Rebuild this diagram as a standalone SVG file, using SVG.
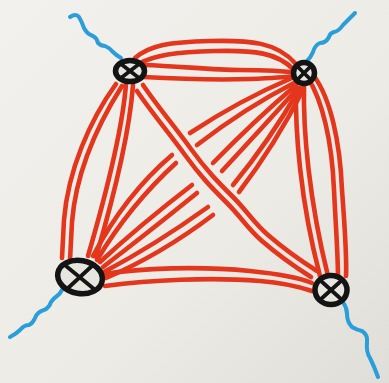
<svg xmlns="http://www.w3.org/2000/svg" width="389" height="383" viewBox="0 0 389 383">
<defs>
<linearGradient id="paper" x1="0" y1="0" x2="1" y2="1">
<stop offset="0" stop-color="#f2f1ed"/>
<stop offset="0.6" stop-color="#ecebe6"/>
<stop offset="1" stop-color="#e0ded8"/>
</linearGradient>
<style>
.r{fill:none;stroke:#e4361c;stroke-width:4.6;stroke-linecap:round;stroke-linejoin:round}
.b{fill:none;stroke:#2a9ed8;stroke-width:4;stroke-linecap:round;stroke-linejoin:round}
.n{fill:#e6e5e0;stroke:#141414;stroke-width:5.5}
.x{stroke:#141414;stroke-width:3.8;stroke-linecap:round}
</style>
</defs>
<rect width="389" height="383" fill="url(#paper)"/>
<g id="external-lines">
<path class="b" d="M70,17 Q76,13 79,17 Q82,22 84,28 Q87,34 93,36 Q97,38 98,43 Q101,46 105,46 Q110,48 113,52 Q116,55 121,58"/>
<path class="b" d="M355,13 Q348,20 343,25 Q339,31 334,32 Q330,33 329,37 Q326,43 320,43 Q315,45 313,52 Q311,57 307,61"/>
<path class="b" d="M10,337 Q16,334 20,330 Q24,325 29,325 Q33,323 35,318 Q37,312 44,310 Q49,308 51,302 Q54,298 57,296 Q60,294 62,290"/>
<path class="b" d="M343,302 Q347,308 347,314 Q347,322 352,327 Q357,330 362,331 Q368,335 367,342 Q366,352 370,358 Q374,366 378,377"/>
</g>
<g id="connectors">
<path class="r" d="M135,58 C150,45 170,42 210,41 C250,40 277,42 296,64"/>
<path class="r" d="M138,64 C155,55 175,52 215,51 C255,50 277,53 293,69"/>
<path class="r" d="M143,65 C180,66 210,70 240,70 C265,70 285,71 297,73"/>
<path class="r" d="M143,77 C180,79 220,80 250,79 C275,78 288,77 296,76"/>
<path class="r" d="M116,84 C90,120 68,170 64,220 L62,258"/>
<path class="r" d="M122,86 C98,124 76,172 72,222 L70,260"/>
<path class="r" d="M126,84 C124,110 116,160 88,256"/>
<path class="r" d="M133,85 C131,112 124,162 96,257"/>
<path class="r" d="M296,85 C295,130 300,200 320,276"/>
<path class="r" d="M304,85 C303,130 309,200 328,276"/>
<path class="r" d="M308,78 C322,100 332,140 334,190 C336,230 338,255 338,278"/>
<path class="r" d="M314,76 C330,98 340,140 342,190 C345,230 347,255 346,276"/>
<path class="r" d="M105,274 C140,268 200,266 250,271 C280,274 300,278 312,283"/>
<path class="r" d="M105,286 C150,280 210,277 260,281 C285,283 300,287 312,291"/>
<path class="r" d="M292,78 Q240,100 190,133"/>
<path class="r" d="M294,83 Q245,108 197,145"/>
<path class="r" d="M295,86 Q255,120 213,163"/>
<path class="r" d="M298,88 Q262,128 222,171"/>
<path class="r" d="M300,88 Q270,140 233,185"/>
<path class="r" d="M303,90 Q275,145 239,192"/>
<path class="r" d="M172,155 Q125,195 93,256"/>
<path class="r" d="M176,163 Q130,205 97,260"/>
<path class="r" d="M192,185 Q140,225 100,262"/>
<path class="r" d="M197,193 Q145,235 103,267"/>
<path class="r" d="M208,207 Q155,245 104,272"/>
<path class="r" d="M213,215 Q160,255 106,278"/>
<path class="r" d="M143,85 C158,107 175,127 191,149 S218,182 233,197 S253,222 268,235 S298,259 317,271"/>
<path class="r" d="M137,91 C152,113 169,133 185,155 S212,188 227,203 S247,228 262,241 S292,265 311,277"/>
</g>
<g id="node-tl">
<ellipse class="n" cx="130" cy="71" rx="14.5" ry="10.5"/>
<line class="x" x1="121" y1="64" x2="139" y2="78"/>
<line class="x" x1="139" y1="64" x2="121" y2="78"/>
</g>
<g id="node-tr">
<ellipse class="n" cx="304" cy="73" rx="10.5" ry="10.5"/>
<line class="x" x1="297" y1="66" x2="311" y2="80"/>
<line class="x" x1="311" y1="66" x2="297" y2="80"/>
</g>
<g id="node-bl">
<ellipse class="n" cx="80" cy="277" rx="22.5" ry="16.5" transform="rotate(10 80 277)"/>
<line class="x" x1="66" y1="266" x2="94" y2="289"/>
<line class="x" x1="93" y1="265" x2="67" y2="289"/>
</g>
<g id="node-br">
<ellipse class="n" cx="331" cy="290" rx="16" ry="14.5"/>
<line class="x" x1="321" y1="281" x2="341" y2="299"/>
<line class="x" x1="341" y1="281" x2="321" y2="299"/>
</g>
</svg>
